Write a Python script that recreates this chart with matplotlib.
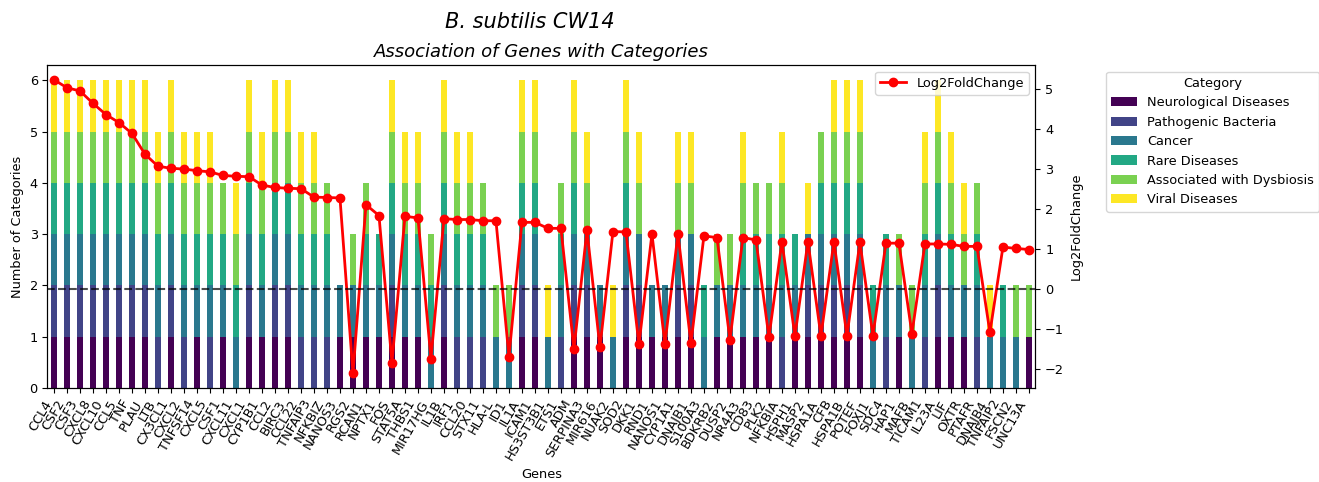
import matplotlib
matplotlib.use("Agg")
import matplotlib.pyplot as plt
import pandas as pd

plt.rcParams['font.size'] = 9.3

genes = ['CCL4', 'CSF2', 'CSF3', 'CXCL8', 'CXCL10', 'CCL5', 'TNF', 'PLAU', 'LTB', 'CX3CL1',
         'CXCL2', 'TNFSF14', 'CXCL5', 'CSF1', 'CXCL11', 'CXCL1', 'CYP1B1', 'CCL2', 'BIRC3', 'CCL22',
         'TNFAIP3', 'NFKBIZ', 'NANOS3', 'RGS2', 'RCAN1', 'NPTX1', 'FOS', 'STAT5A', 'THBS1', 'MIR17HG',
         'IL1B', 'IRF1', 'CCL20', 'STX11', 'HLA-L', 'ID1', 'IL1A', 'ICAM1', 'HS3ST3B1', 'ETS1',
         'ADM', 'SERPINA3', 'MIR616', 'NUAK2', 'SOD2', 'DKK1', 'RND1', 'NANOS1', 'CYP1A1', 'DNAJB1',
         'S100A3', 'BDKRB2', 'DUSP2', 'NR4A3', 'CD83', 'PLK2', 'NFKBIA', 'HSPH1', 'MASP2', 'HSPA1A',
         'CFB', 'HSPA1B', 'POTEF', 'FOXJ1', 'SDC4', 'HAP1', 'MAFB', 'TICAM1', 'IL23A', 'LIF',
         'OXTR', 'PTAFR', 'DNAJB4', 'TNFAIP2', 'FSCN2', 'UNC13A']

log2fc = [5.23, 5.03, 4.95, 4.64, 4.36, 4.16, 3.89, 3.37, 3.07, 3.02,
          3.00, 2.96, 2.93, 2.84, 2.82, 2.81, 2.60, 2.54, 2.52, 2.51,
          2.30, 2.29, 2.28, -2.10, 2.11, 1.84, -1.83, 1.82, 1.78, -1.73,
          1.76, 1.74, 1.74, 1.71, 1.71, -1.68, 1.67, 1.67, 1.52, 1.52,
          -1.49, 1.47, -1.45, 1.44, 1.43, -1.38, 1.38, -1.37, 1.38, -1.35,
          1.33, 1.29, -1.26, 1.29, 1.23, -1.20, 1.19, -1.17, 1.19, -1.17,
          1.19, -1.16, 1.17, -1.16, 1.15, 1.15, -1.11, 1.13, 1.13, 1.12,
          1.07, 1.07, -1.08, 1.05, 1.02, 0.99]

# 1 = gene associated with the category
neuro = [1, 1, 1, 1, 1, 1, 1, 1, 0, 1, 0, 1, 0, 1, 0, 1, 1, 1, 1, 0,
         0, 0, 1, 1, 1, 1, 1, 1, 1, 0, 1, 0, 0, 0, 0, 0, 1, 1, 0, 0,
         1, 1, 1, 0, 1, 1, 1, 1, 1, 1, 0, 1, 1, 1, 1, 1, 0, 1, 1, 1,
         1, 1, 1, 0, 0, 1, 0, 0, 1, 1, 1, 0, 0, 0, 0, 1]
patho = [1, 1, 1, 1, 1, 1, 1, 1, 1, 1, 1, 0, 1, 0, 0, 1, 0, 1, 1, 1,
         1, 1, 0, 0, 0, 0, 1, 0, 0, 0, 1, 1, 1, 1, 0, 0, 1, 1, 0, 1,
         1, 1, 0, 0, 1, 1, 0, 0, 1, 1, 0, 0, 0, 0, 0, 0, 1, 0, 1, 1,
         1, 1, 1, 0, 1, 0, 0, 1, 1, 0, 0, 1, 0, 0, 0, 0]
cancer = [1, 1, 1, 1, 1, 1, 1, 1, 1, 1, 1, 1, 1, 1, 1, 1, 1, 1, 1, 1,
          1, 1, 1, 1, 1, 1, 1, 1, 1, 1, 1, 1, 1, 1, 1, 1, 1, 1, 1, 1,
          1, 1, 1, 1, 1, 1, 1, 1, 1, 1, 1, 1, 1, 1, 1, 1, 1, 1, 1, 1,
          1, 1, 1, 1, 1, 1, 1, 1, 1, 1, 1, 1, 1, 1, 1, 0]
rare = [1, 1, 1, 1, 1, 1, 1, 1, 1, 1, 1, 1, 1, 1, 1, 1, 1, 1, 1, 1,
        1, 1, 0, 0, 1, 1, 1, 1, 1, 1, 1, 1, 1, 1, 0, 0, 1, 1, 0, 1,
        1, 0, 0, 0, 1, 0, 0, 0, 0, 0, 1, 0, 0, 1, 1, 1, 1, 1, 0, 1,
        1, 1, 1, 1, 1, 0, 0, 1, 1, 1, 0, 1, 0, 1, 0, 0]
dysbiosis = [1, 1, 1, 1, 1, 1, 1, 1, 1, 1, 1, 1, 1, 1, 1, 1, 1, 1, 1, 1,
             1, 1, 0, 1, 1, 0, 1, 1, 1, 1, 1, 1, 1, 1, 1, 1, 1, 1, 0, 1,
             1, 1, 0, 0, 1, 1, 0, 0, 1, 1, 0, 1, 1, 1, 1, 1, 1, 0, 0, 1,
             1, 1, 1, 0, 0, 1, 1, 1, 1, 1, 1, 1, 0, 0, 1, 1]
viral = [1, 1, 1, 1, 1, 1, 1, 1, 1, 1, 1, 1, 1, 0, 1, 1, 1, 1, 1, 1,
         1, 0, 0, 0, 0, 0, 1, 1, 1, 0, 1, 1, 1, 0, 0, 0, 1, 1, 1, 0,
         1, 1, 0, 1, 1, 1, 0, 0, 1, 1, 0, 0, 0, 1, 0, 0, 1, 0, 1, 0,
         1, 1, 1, 0, 0, 0, 0, 1, 1, 1, 1, 0, 1, 0, 0, 0]

df = pd.DataFrame({'Neurological Diseases': neuro,
                   'Pathogenic Bacteria': patho,
                   'Cancer': cancer,
                   'Rare Diseases': rare,
                   'Associated with Dysbiosis': dysbiosis,
                   'Viral Diseases': viral}, index=genes)

fig, ax = plt.subplots(figsize=(13.19, 4.82), dpi=100)
df.plot(kind='bar', stacked=True, colormap='viridis', ax=ax)
ax.set_xticks(range(len(genes)))
ax.set_xticklabels(genes, rotation=60, ha='right')
ax.set_xlabel('Genes')
ax.set_ylabel('Number of Categories')
ax.set_title('Association of Genes with Categories', fontsize=13, style='italic')
ax.legend(title='Category', bbox_to_anchor=(1.065, 1.0), loc='upper left')

ax2 = ax.twinx()
ax2.plot(range(len(genes)), log2fc, 'o-', color='red', linewidth=2, markersize=6, label='Log2FoldChange')
ax2.axhline(0, color='black', linestyle='--', linewidth=1.5, alpha=0.7)
ax2.set_ylabel('Log2FoldChange')
ax2.legend(loc='upper right')

fig.suptitle('B. subtilis CW14', x=0.402, y=0.975, fontsize=15, style='italic')
plt.subplots_adjust(left=0.036, right=0.785, top=0.865, bottom=0.195)
plt.savefig('out.png', dpi=100)
